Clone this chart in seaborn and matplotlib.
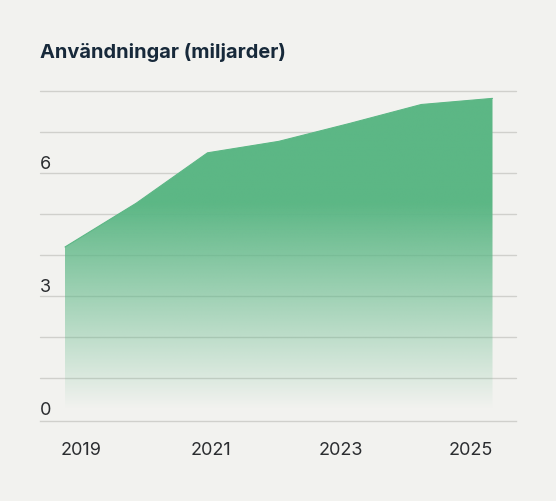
import numpy as np
import pandas as pd
import seaborn as sns
import matplotlib.pyplot as plt
from matplotlib.colors import to_rgb

sns.set_style('white')
plt.rcParams['font.family'] = ['Inter', 'DejaVu Sans']

# data
years = [2019, 2020, 2021, 2022, 2023, 2024, 2025]
usage = [4.19, 5.26, 6.49, 6.77, 7.21, 7.67, 7.82]
tick_years = ['2019', '2021', '2023', '2025']
y_labels = ['0', '', '', '3', '', '', '6', '', '']

df = pd.DataFrame({'År': years, 'Användningar': usage})

bg = '#f2f2ef'
green = '#5cb785'
grid_col = '#d0d0cc'
text_col = '#2b2d30'

fig = plt.figure(figsize=(5.56, 5.01), dpi=100, facecolor=bg)
ax = fig.add_axes([40 / 556, 80 / 501, 476 / 556, 330 / 501])
ax.set_facecolor(bg)

# top edge
sns.lineplot(data=df, x='År', y='Användningar', color=green, lw=0.8, ax=ax, zorder=3)

# fading fill: solid at the top, transparent towards zero
x0, x1 = min(years), max(years)
ny = 500
lev = np.linspace(0, 8, ny)
alpha = np.clip((lev - 0.25) / 5.0, 0, 1)
img = np.zeros((ny, 2, 4))
img[..., :3] = to_rgb(green)
img[..., 3] = alpha[:, None]
im = ax.imshow(img, extent=[x0, x1, 0, 8], origin='lower', aspect='auto',
               interpolation='bilinear', zorder=2)
poly = ax.fill_between(df['År'], 0, df['Användningar'], facecolor='none', edgecolor='none')
im.set_clip_path(poly.get_paths()[0], transform=ax.transData)

ax.set_xlim(x0 - 25 / 71.25, x1 + 23.5 / 71.25)
ax.set_ylim(-0.06, 8)

# grid (the baseline is drawn a little below zero, as the spine)
ax.set_yticks(range(9))
ax.set_yticklabels(y_labels)
ax.yaxis.grid(True, color=grid_col, lw=1)
ax.xaxis.grid(False)
ax.set_axisbelow(True)
for gl in ax.get_ygridlines():
    gl.set_clip_on(False)
ax.get_ygridlines()[0].set_visible(False)
ax.tick_params(axis='y', length=0, pad=0, labelsize=13, labelcolor=text_col)
for lab in ax.get_yticklabels():
    lab.set_ha('left')
    lab.set_va('bottom')

# year labels sit slightly inside the data range
tick_pos = [x0 + 16 / 71.25, x0 + 146 / 71.25, x0 + 276 / 71.25, x0 + 406 / 71.25]
ax.set_xticks(tick_pos)
ax.set_xticklabels(tick_years)
ax.tick_params(axis='x', length=0, pad=15, labelsize=13, labelcolor=text_col)

ax.set_xlabel('')
ax.set_ylabel('')
sns.despine(ax=ax, left=True)
ax.spines['bottom'].set_color(grid_col)
ax.spines['bottom'].set_linewidth(1)

fig.text(40 / 556, 1 - 58.5 / 501, 'Användningar (miljarder)', fontsize=14.4,
         fontweight='bold', color='#17293a', va='baseline', ha='left')

plt.savefig('out.png', dpi=100, facecolor=bg)
